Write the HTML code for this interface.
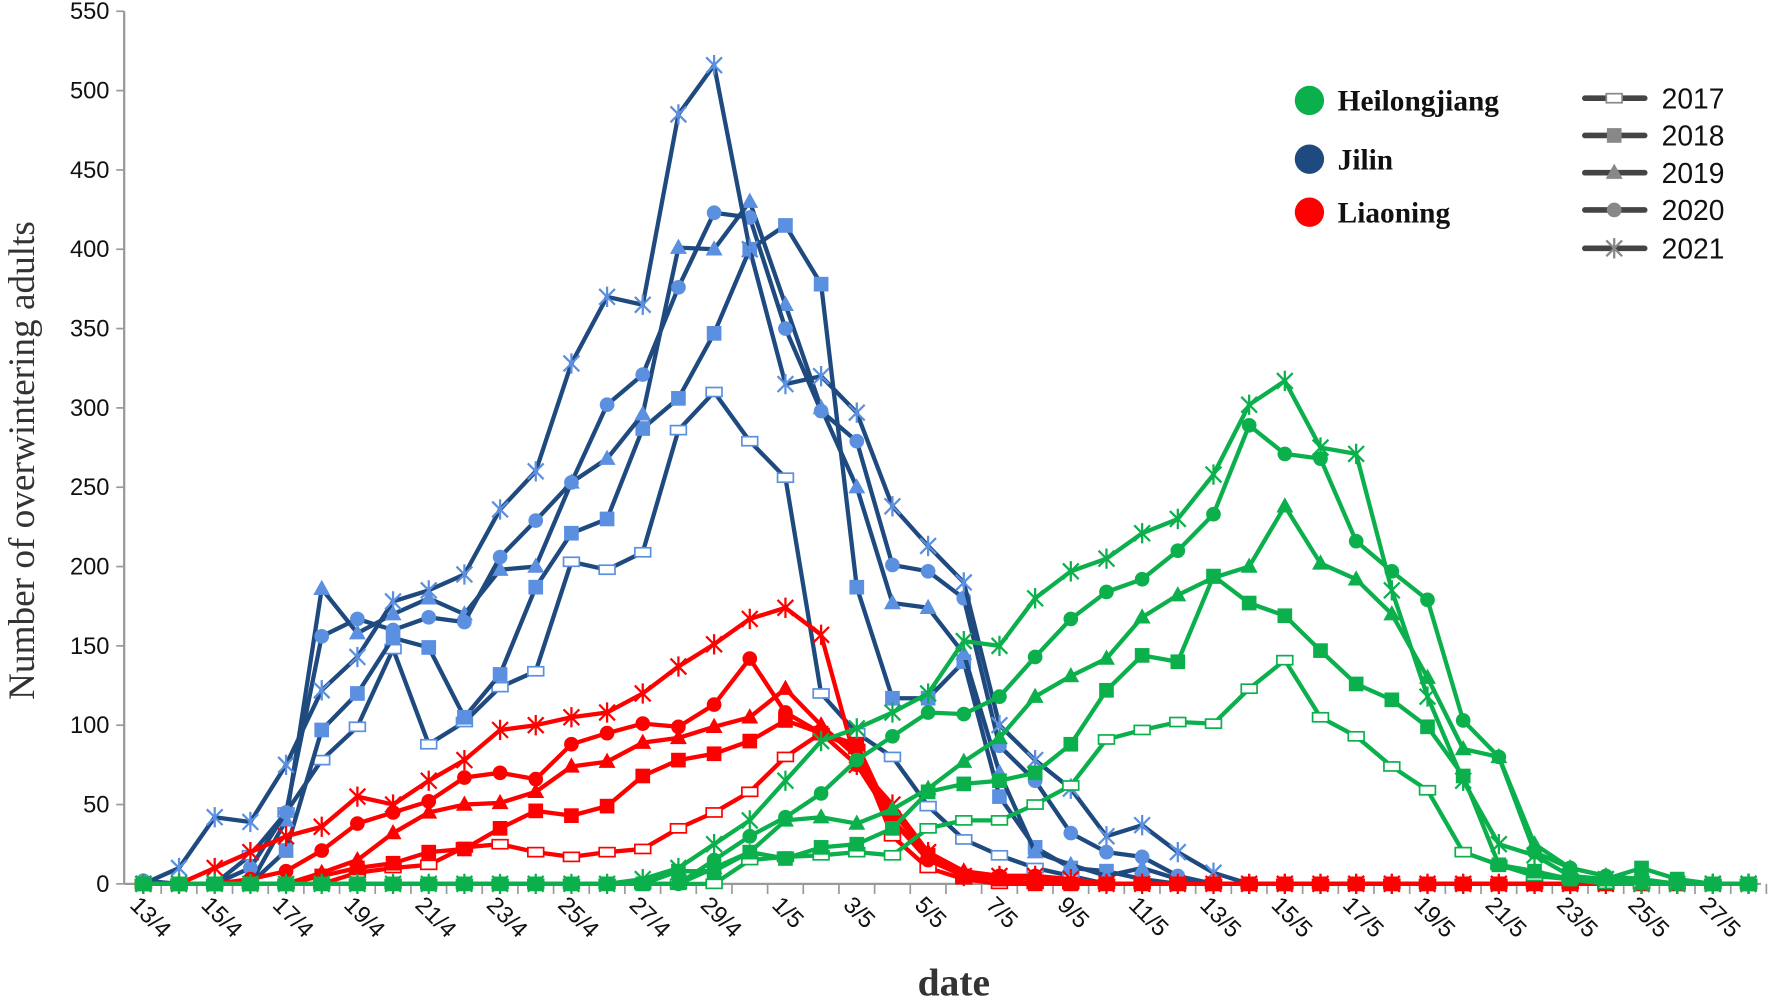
<!DOCTYPE html>
<html><head><meta charset="utf-8"><style>html,body{margin:0;padding:0;background:#fff;overflow:hidden}svg{display:block}</style></head>
<body>
<svg id="c" width="1770" height="999" viewBox="0 0 1568 885" xmlns="http://www.w3.org/2000/svg">
<g font-family="Liberation Sans, sans-serif" font-size="21" fill="#111" id="ax"></g>
<g id="plot"></g>
<text x="845" y="882" font-family="Liberation Serif, serif" font-weight="bold" font-size="35" text-anchor="middle" fill="#333">date</text>
<text transform="translate(30,408) rotate(-90)" font-family="Liberation Serif, serif" font-size="33" text-anchor="middle" fill="#333">Number of overwintering adults</text>
<g font-family="Liberation Serif, serif" font-weight="bold" font-size="26" fill="#111">
<circle cx="1160" cy="89" r="13" fill="#0bb04c"/><text x="1185" y="98">Heilongjiang</text>
<circle cx="1160" cy="141" r="13" fill="#1f4a7f"/><text x="1185" y="150">Jilin</text>
<circle cx="1160" cy="188" r="13" fill="#f00"/><text x="1185" y="197">Liaoning</text>
</g>
<g id="leg" font-family="Liberation Sans, sans-serif" font-size="25" fill="#111"></g>
</svg>
<script>
var X=function(d){return 127+d*31.6},Y=function(v){return 783-v*1.4055};
var NS="http://www.w3.org/2000/svg";
function el(p,t,a){var e=document.createElementNS(NS,t);for(var k in a)e.setAttribute(k,a[k]);p.appendChild(e);return e}
var ax=document.getElementById('ax');
el(ax,'line',{x1:110,y1:783,x2:1560,y2:783,stroke:'#999','stroke-width':2});
el(ax,'line',{x1:110,y1:10,x2:110,y2:783,stroke:'#999','stroke-width':2});
for(var v=0;v<=550;v+=50){el(ax,'line',{x1:103,y1:Y(v),x2:110,y2:Y(v),stroke:'#999','stroke-width':1.5});var t=el(ax,'text',{x:97,y:Y(v)+7,'text-anchor':'end'});t.textContent=v;}
var dates=[];for(var i=13;i<=30;i++)dates.push(i+'/4');for(i=1;i<=28;i++)dates.push(i+'/5');
for(var d=0;d<46;d++){var x=X(d)+15.8;el(ax,'line',{x1:x,y1:783,x2:x,y2:792,stroke:'#999','stroke-width':1.5});}
for(d=0;d<46;d+=2){var t=el(ax,'text',{transform:'translate('+(X(d)-13)+',803) rotate(45)'});t.textContent=dates[d];}
function S(o){var a=[];for(var i=0;i<46;i++)a.push(o[i]||0);return a}
var J=[
S({3:18,4:45,5:78,6:99,7:148,8:88,9:102,10:124,11:134,12:203,13:198,14:209,15:286,16:310,17:279,18:256,19:120,20:95,21:80,22:49,23:28,24:18,25:10,26:5}),
S({4:21,5:97,6:120,7:155,8:149,9:105,10:132,11:187,12:221,13:230,14:287,15:306,16:347,17:400,18:415,19:378,20:187,21:117,22:117,23:140,24:55,25:23,26:10,27:8,28:3}),
S({4:40,5:186,6:158,7:170,8:180,9:170,10:198,11:200,12:253,13:268,14:296,15:401,16:400,17:430,18:365,19:300,20:250,21:177,22:174,23:145,24:70,25:20,26:12,27:5,28:10,29:3}),
S({0:2,3:10,4:45,5:156,6:167,7:160,8:168,9:165,10:206,11:229,12:253,13:302,14:321,15:376,16:423,17:420,18:350,19:298,20:279,21:201,22:197,23:180,24:87,25:65,26:32,27:20,28:17,29:5}),
S({1:10,2:42,3:39,4:75,5:122,6:143,7:178,8:185,9:195,10:236,11:260,12:328,13:370,14:365,15:485,16:516,17:400,18:315,19:320,20:297,21:238,22:213,23:190,24:100,25:78,26:60,27:30,28:37,29:20,30:7})];
var L=[
S({6:7,7:10,8:12,9:23,10:25,11:20,12:17,13:20,14:22,15:35,16:45,17:58,18:80,19:95,20:85,21:30,22:10,23:3}),
S({5:5,6:10,7:13,8:20,9:22,10:35,11:46,12:43,13:49,14:68,15:78,16:82,17:90,18:103,19:95,20:88,21:40,22:18,23:5,24:3}),
S({5:7,6:15,7:32,8:45,9:50,10:51,11:58,12:74,13:77,14:89,15:92,16:99,17:105,18:123,19:100,20:80,21:45,22:20,23:8,24:5,25:3}),
S({3:3,4:8,5:21,6:38,7:45,8:52,9:67,10:70,11:66,12:88,13:95,14:101,15:99,16:113,17:142,18:108,19:95,20:75,21:40,22:15,23:5,24:5,25:5}),
S({2:10,3:20,4:30,5:36,6:55,7:50,8:65,9:78,10:97,11:100,12:105,13:108,14:120,15:137,16:151,17:167,18:174,19:157,20:75,21:50,22:20,23:5,24:5,25:5,26:3})];
var H=[
S({17:15,18:17,19:18,20:20,21:18,22:35,23:40,24:40,25:50,26:62,27:91,28:97,29:102,30:101,31:123,32:141,33:105,34:93,35:74,36:59,37:20,38:12,39:5,40:3}),
S({15:8,16:8,17:20,18:16,19:23,20:25,21:35,22:58,23:63,24:65,25:70,26:88,27:122,28:144,29:140,30:194,31:177,32:169,33:147,34:126,35:116,36:99,37:68,38:12,39:8,40:3,41:3,42:10,43:3}),
S({16:10,17:20,18:40,19:42,20:38,21:47,22:60,23:77,24:92,25:118,26:131,27:142,28:168,29:182,30:193,31:200,32:238,33:202,34:192,35:170,36:130,37:85,38:80,39:25,40:10,41:5}),
S({16:15,17:30,18:42,19:57,20:78,21:93,22:108,23:107,24:118,25:143,26:167,27:184,28:192,29:210,30:233,31:289,32:271,33:268,34:216,35:197,36:179,37:103,38:80,39:20,40:10,41:5,42:3}),
S({14:3,15:10,16:25,17:40,18:65,19:90,20:98,21:108,22:120,23:153,24:150,25:180,26:197,27:205,28:221,29:230,30:258,31:302,32:317,33:275,34:271,35:185,36:118,37:65,38:25,39:18,40:5,41:3})];
function marker(g,k,x,y,c){
 if(k==0){el(g,'rect',{x:x-7,y:y-4,width:14,height:8,fill:'#fff',stroke:c,'stroke-width':1.5});}
 else if(k==1){el(g,'rect',{x:x-6.5,y:y-6.5,width:13,height:13,fill:c});}
 else if(k==2){el(g,'polygon',{points:(x)+','+(y-8)+' '+(x-7.5)+','+(y+5.5)+' '+(x+7.5)+','+(y+5.5),fill:c});}
 else if(k==3){el(g,'circle',{cx:x,cy:y,r:6.5,fill:c});}
 else {var p='M'+(x-7)+' '+(y-7)+'L'+(x+7)+' '+(y+7)+'M'+(x+7)+' '+(y-7)+'L'+(x-7)+' '+(y+7)+'M'+x+' '+(y-9)+'L'+x+' '+(y+9);el(g,'path',{d:p,stroke:c,'stroke-width':2,fill:'none'});}
}
var plot=document.getElementById('plot');
function draw(set,lc,mc){set.forEach(function(s,k){var g=el(plot,'g',{});var pts=s.map(function(v,i){return X(i)+','+Y(v)}).join(' ');
 el(g,'polyline',{points:pts,fill:'none',stroke:lc,'stroke-width':3.8,'stroke-linejoin':'round'});
 s.forEach(function(v,i){marker(g,k,X(i),Y(v),mc)});});}
draw(J,'#1f4a7f','#5b8fe0');draw(L,'#f00','#f00');draw(H,'#0bb04c','#0bb04c');
var leg=document.getElementById('leg');
['2017','2018','2019','2020','2021'].forEach(function(y,k){var cy=[87,120,153,186,220][k];
 el(leg,'line',{x1:1404,y1:cy,x2:1457,y2:cy,stroke:'#444','stroke-width':5,'stroke-linecap':'round'});
 marker(leg,k,1430,cy,'#888');var t=el(leg,'text',{x:1472,y:cy+9});t.textContent=y;});
</script>
</body></html>
